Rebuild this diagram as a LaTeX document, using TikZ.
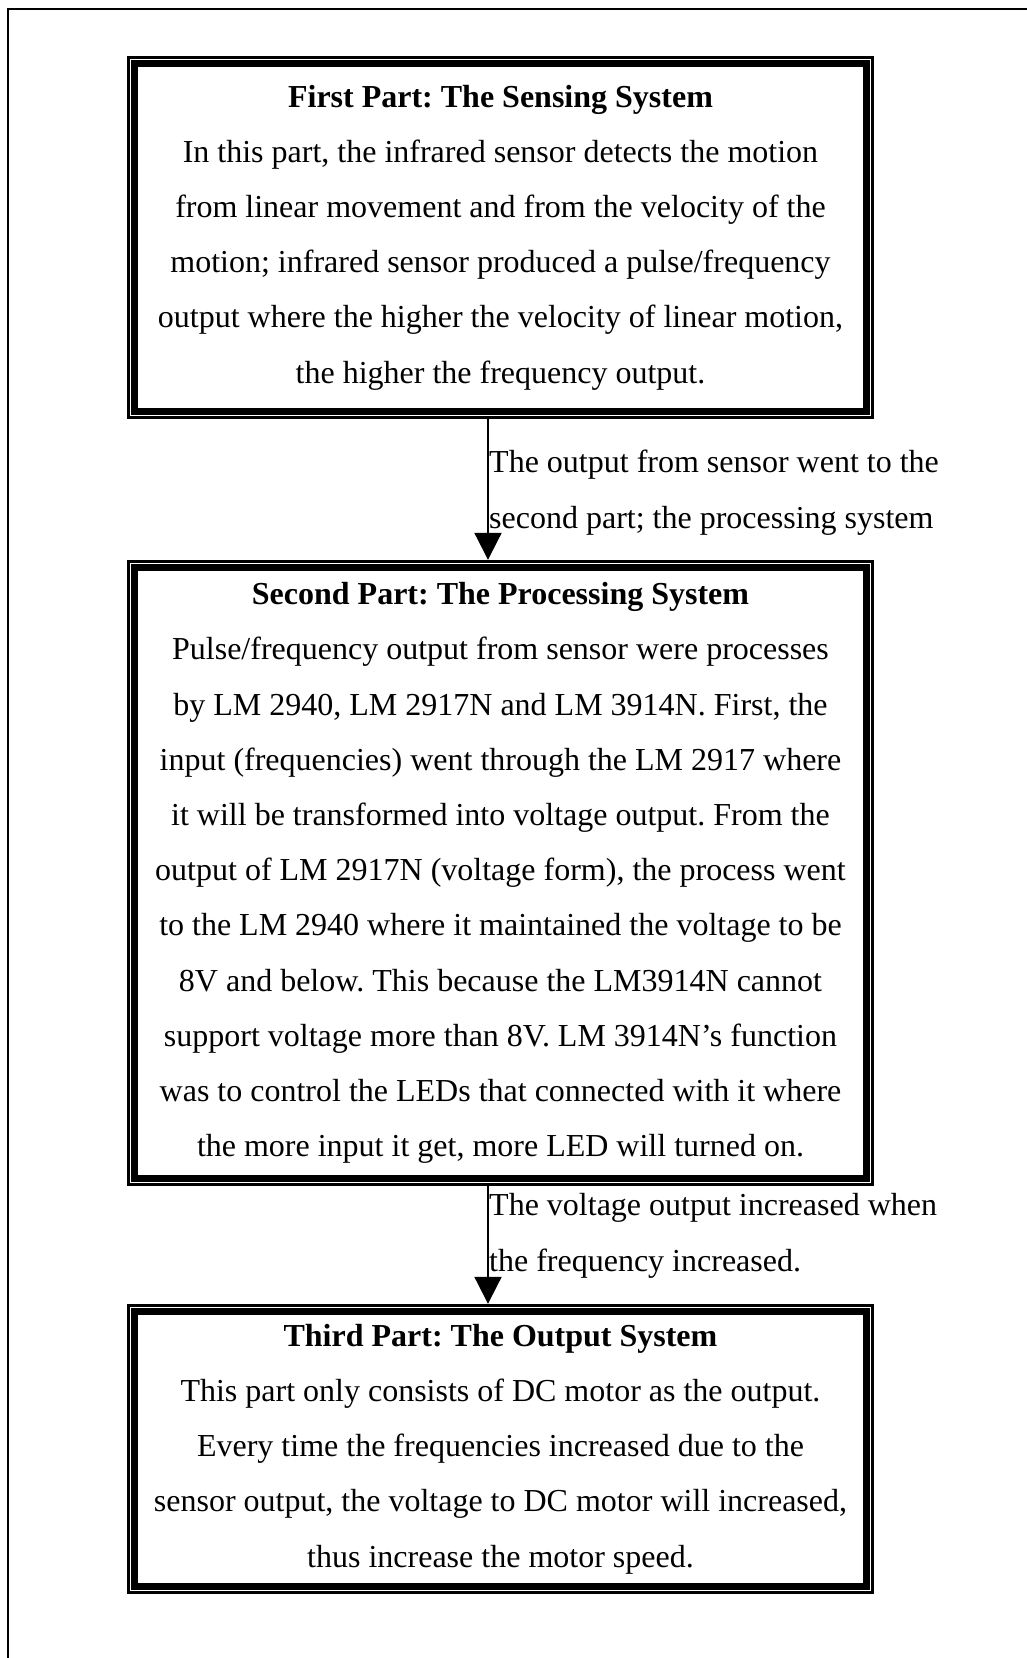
\documentclass[tikz,border=0pt]{standalone}
\usepackage{fontspec}
\setmainfont{Liberation Serif}
\usetikzlibrary{arrows.meta}
\frenchspacing
\tikzset{
  txt/.style={font=\fontsize{32}{55.2}\selectfont\frenchspacing, inner sep=0pt},
  partbox/.style={txt, draw=none, align=center, minimum width=747pt},
  thinrule/.style={line width=2.8pt},
  thickrule/.style={line width=7pt},
  flow/.style={line width=2pt, -{Triangle[width=27pt,length=27pt]}},
  flowlabel/.style={txt, align=left, anchor=base west},
  frame/.style={line width=2pt}
}
\newcommand\partframe[1]{%
  \draw[thinrule] ([shift={(1.4,1.4)}]#1.north west) rectangle ([shift={(-1.4,-1.4)}]#1.south east);
  \draw[thickrule] ([shift={(7.8,7.8)}]#1.north west) rectangle ([shift={(-7.8,-7.8)}]#1.south east);}
\begin{document}
\begin{tikzpicture}[x=1pt,y=-1pt]
\useasboundingbox (0,0) rectangle (1027,1658);
% outer frame (top and left only)
\coordinate (fl) at (8,1658);
\coordinate (fc) at (8,9);
\coordinate (fr) at (1027,9);
\draw[frame] (fl) -- (fc) -- (fr);

\node[partbox, minimum height=363pt] (b1) at (500.5,237.5) {%
\textbf{First Part: The Sensing System}\\
In this part, the infrared sensor detects the motion\\
from linear movement and from the velocity of the\\
motion; infrared sensor produced a pulse/frequency\\
output where the higher the velocity of linear motion,\\
the higher the frequency output.};
\partframe{b1}

\node[partbox, minimum height=626pt] (b2) at (500.5,873) {%
\textbf{Second Part: The Processing System}\\
Pulse/frequency output from sensor were processes\\
by LM 2940, LM 2917N and LM 3914N. First, the\\
input (frequencies) went through the LM 2917 where\\
it will be transformed into voltage output. From the\\
output of LM 2917N (voltage form), the process went\\
to the LM 2940 where it maintained the voltage to be\\
8V and below. This because the LM3914N cannot\\
support voltage more than 8V. LM 3914N’s function\\
was to control the LEDs that connected with it where\\
the more input it get, more LED will turned on.};
\partframe{b2}

\node[partbox, minimum height=290pt] (b3) at (500.5,1449) {%
\textbf{Third Part: The Output System}\\
This part only consists of DC motor as the output.\\
Every time the frequencies increased due to the\\
sensor output, the voltage to DC motor will increased,\\
thus increase the motor speed.};
\partframe{b3}

\draw[flow] ([xshift=-12.5pt]b1.south) -- ([xshift=-12.5pt]b2.north);
\draw[flow] ([xshift=-12.5pt]b2.south) -- ([xshift=-12.5pt]b3.north);

\node[flowlabel] (l1) at (489,528) {The output from sensor went to the\\second part; the processing system};
\node[flowlabel] (l2) at (489,1271) {The voltage output increased when\\the frequency increased.};
\end{tikzpicture}
\end{document}
